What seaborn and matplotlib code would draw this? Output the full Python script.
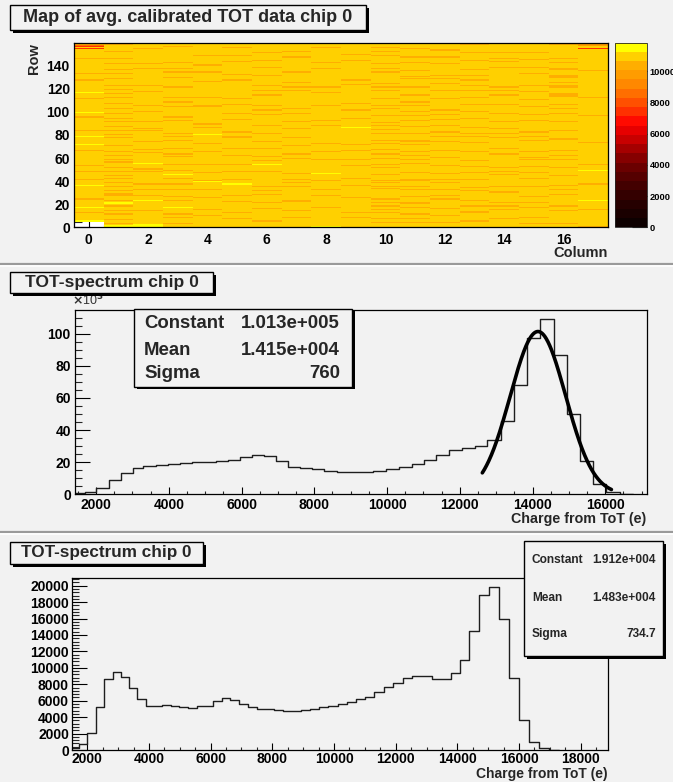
import numpy as np
import pandas as pd
import matplotlib
matplotlib.use("Agg")
import matplotlib.pyplot as plt
import seaborn as sns
from matplotlib.colors import ListedColormap
from matplotlib.patches import Rectangle
from matplotlib.ticker import FixedLocator, MultipleLocator
from matplotlib.lines import Line2D

# ---------------- data ----------------
map_title = "Map of avg. calibrated TOT data chip 0"
spec_title = "TOT-spectrum chip 0"
map_columns = list(range(18))
map_rows = list(range(160))
# cell levels per column (row 0 first); codes -> avg calibrated TOT
level_values = {"Y": 11550, "G": 10950, "O": 10400, "o": 9800, "R": 8550, "r": 7400, ".": np.nan}
map_cells = [
    ".....YGGGG GGOGGGGYGG GGGGOGGGGG GGGGGGYGGG GOGGGGGGOG GGGOGGGGGG GGGGGGOGGG GYGGGGGGYG GGGOGGGGGG GGGGGOGGGY GGGGGGGGGG GOGGGGYGGG GGGGGGGOGG GGGOGGGGGG GGGGGGOGGG GGGGrGrROO",
    "YYGOGGOGGG GOGGOGGGOG YYGOGGGOOO GOGGGOGGOG GGOGOGGGOG GOGGGGOGOG GGOGGOGGGG OGGGGGGOGG OGGOGGGOGG GOGGOGGGOG GGOGGGGOGG GGOGGOGGGO GGOGGGGGOG GGGOGGOGGG GOGGGGOGGG GGOGGGGGOG",
    "YYYGGGGGGG GGGGOGGGGG GGGYGGGOGG GGOGGGGOGG GGGGGGGGOG OGGGGYGGGG GGGGOGGOGG GGGGOGGGGG GGGOGOGGGG GOGGGGGGGG OGGGGOGGGG GGGGGGGOGG GGOGGGGGGG GGGGGGGOGG GOGGGGGGGG GGGGOGGGGG",
    "GGGOGGGGOG GOGGGGGYGG GGGOGGOGGG GGOGGGGOGG GGOGGYGGGO GGGGOGGGGG GOGOGGGGOG GGGGGOGGOG GOGGGGGGGG GGOGGOGGGG GGGGOGGGOG GGOGGGGGGG GOGGGGGGGO GGGGOGGOGG GGOGGGGGGG GGGGGGOGGG",
    "GGGGGGGGGG OGGGGOGGGG GGGGGOGGGG GGOGGGGGGY OGGGGGGOGG GGGGOGGGGG GGGGGOGGGG GGOGGGGGGG YGGGGGOGGO GGGGGGGGGG GGGGOOGGGG GGOGGGGGGG GGGGGGOGGG GGGGOGGGGG OGGGGGGGOG GGGGGGGGGG",
    "GGGGGGGOGG GGOGGGGGGG GGOGGGGOGG GGGGGGGYGG GOGGGGGGOG GGGGOGGGGG GGOGGGGGOG GGGGGGGOOG GGOGGGGGGG GGGOGGGGOG GGGGGGOGGG GOGGGGGGGG GGGGGGGOGG GGOGGGGGGG GGGOGGGGOG GGGGGOGGGG",
    "GGGGGOGGGG GGGGGGOGGG GOGGGGGGOG GOGGGOGGGG GGGGGGGGOG GGGGYGGOGG GOGGGGGGOG GGGGOGGGGG GOGGGGGGOG GGGGGGGOGG GOGGGOGGGG GGGGOGGGOG GGOGGGGGGG GOGGGGGGOG GGGGOGGGGG GOGGGGGGGG",
    "GGGGGGGGOG GGGGOGGGGG GGOOGGGGGG GGGGGOGGOG GOGGGGOGGG GGGGGGGGGO GGGOGGGGGG OGGGGGGOGG GGGGGOGGGG GOGGGGGGOG GGOGGGGGGG GGGGGGGGOG GOGGGOGGGG GGGGOGGGGG GGGGGGGOGG GGOGGGGGGG",
    "YGGGGGGGGG GGGGGGGOGG GGGGGGGOGG GGOGGGGGGG OGGGGGYGGG GGGGGGGGOG GGGGGOGGGG GGOGGGGGGG GGGGGGGGOG GGOGGGGGGG GGGGGOGGGG GGGGGGOGGG GOGGGGGGGG GGGGGGGOGG GGOGGGGGGG GGGGGOGGGG",
    "GGGGGGGGOG GGOGGGGGGG GGGGGOGGGG GGGGGGOGGG GGOGGGGGGG GGGOGGGGOG GGGGGGOGGG GOGGGGGGGG GGGGGGYGGG GGGGOGGGGG GOGGGGGOGG GGGGGGGGGG GGGOGGGOGG GGGGGGGGGG GGGGOGGGGO GGGGGGGGGG",
    "GGGGOGGOGG GGOGGOGGOG GOGGOGGGGG GGGOGOGGOG OGGGGOGGGG GOGGOGGGGO GGGOGGGOGG GGOGGOGGGG GOGGOGGGOG OGGGGGOGGG GGOGGOGGGG GOGGGGGGOG GOGGOGGGGG GGGGOGGOGG GOGGGGGGOG GGOGGOGGGG",
    "GGGGOGGOGG GOGGGGGOGG OOGGGGOGGG GGOGGOGGGG OOGGGGGOGG GGGGGOGGOG GGOGGOGGGG GOGGOOGGGG GOGGGGGOGG GGOGGGOGGG OGGGGOGGOG GGGGOGGGGG GOGGGGGGOG OGGGGOGGGG GGOGGGGOGG GGGGOGGGGG",
    "GGGGOGGGGG OGGGGGOGGG GGGGOGGOGG GGOGGGGGOG GOGGGGOGGG GGGOGGGGGG OGGGGGOGGG GGGGOGGGOG GGOGGGGGOG GGGOGGGOGG GOGGGGGGGG GOGGGGGGOG GGGGOGGGOG GOGGGGGGGG GOGGGGGOGG GGGOGGGGGG",
    "GGGGGOGGGG GGOOGGGGOG GGGOGGGGGG GOGGOGGGGG GOGGGGGOGG GGOGGGGOGG GGGGGOGGGG GGGOGGGGOG GOGGGGOGGG GGGGOGGGGG OGGGGGOGGG GGOGGGGGOG GGOGGGGOGG GOGGGGOGGG GGGGOGGGGG GOGGGGGGOG",
    "GGGGGGGOGG GGGGGOGGOG GOGGGGGGGG OGGGGOGGGG GGGGGOGGOG GOGGGGGGGG GGGOGGGGOG GGGGGGGOGG GOGGGOGGGG GOGGGGGGOG GGGGGGOGGG GGGGOGGGOG GOGGGGGGGG GGGGGGGGOG GGGOGGOGGG GOGGGGGGGG",
    "GGGOGGGGOG GGGGGGGOGG GOGGGGOGGG GGGGGOGGGG GGOGGGGOGG GGOGGGGGOG OGGGGOGGGG GGGGGOGGOG GGOGGGGGGG GGOGGGGOGG GGGGOGGGGG OGGGGGGOGG GGOGGGGGGG GGGOGGGGOG GGGGGOGGGG GOGGGGGGGG",
    "GGGOGGGGGG GGGGOGGGOG GGGGGGGGOG GGOGGGOGGG GGGGOGGGGG GOGGGGGGOG GGOGGGOGGG GGGGGGOGGG GGGOGGGGGG GOGGGGGGOG GGOGGGOGGG GGGOOOGGGG GOOGGOGGGO OOGGGGOOGG GGOGGGOGGG GGGGGGGGOG",
    "OGGGGGGGGG GGGGGOGGGG GGGYGGGGGG GGGGGGGOGG GGGGGGGGGY GGGGOGGGGG GGGGGGGGGG GGGOGGGGGG GGGGGGGGGG GGGGGGOGGG GGGGGGGGGG GGOGGGGGGG GGGGGGGGGG GGGGGOGGGG GGGGGGGGGG GGGGrGGooo",
]
map_vmax = 11830
cbar_ticks = [0, 2000, 4000, 6000, 8000, 10000]

# middle spectrum (counts in units of 10^3), variable-width bins
mid_edges = [1420, 1690, 2000, 2365, 2675, 3005, 3300, 3635, 3966, 4297, 4628, 4959,
             5290, 5621, 5952, 6283, 6614, 6945, 7265, 7610, 7945, 8280, 8614, 8949,
             9284, 9618, 9967, 10333, 10673, 11011, 11360, 11706, 12074, 12412, 12761,
             13126, 13492, 13849, 14217, 14582, 14948, 15315, 15662, 16030, 16396, 16761]
mid_counts_k = [0.5, 1.2, 3.7, 8.7, 13.2, 16.1, 17.4, 18.3, 18.7, 19.4, 19.9, 20.4,
                20.9, 21.6, 23.0, 24.4, 23.9, 20.5, 17.3, 16.3, 15.6, 14.8, 14.0, 14.0,
                14.0, 14.7, 15.9, 17.0, 18.6, 21.1, 24.4, 27.3, 28.9, 30.2, 33.5,
                45.5, 68.3, 97.3, 109.3, 87.0, 49.7, 20.7, 6.2, 1.6, 0.3]
fit_constant_k = 101.3
fit_mean = 14150
fit_sigma = 760
fit_range = (12620, 16170)
mid_stats = [("Constant", "1.013e+005"), ("Mean", "1.415e+004"), ("Sigma", "760")]

# bottom spectrum
bot_edges = [1494, 1741, 2000, 2272, 2542, 2823, 3083, 3352, 3621, 3894, 4153, 4412,
             4704, 4983, 5275, 5547, 5816, 6086, 6358, 6627, 6929, 7221, 7493, 7795,
             8054, 8355, 8628, 8920, 9221, 9523, 9815, 10120, 10411, 10713, 11005,
             11306, 11621, 11923, 12227, 12539, 12843, 13167, 13469, 13783, 14085,
             14387, 14701, 15025, 15340, 15674, 15998, 16322, 16647, 16971, 17295]
bot_counts = [300, 750, 2050, 5200, 8700, 9450, 8850, 7500, 6200, 5400, 5400, 5500,
              5300, 5200, 5100, 5300, 5400, 6000, 6300, 6100, 5600, 5200, 5000, 5000,
              4850, 4750, 4750, 4850, 5000, 5200, 5300, 5550, 5900, 6250, 6500,
              7050, 7650, 8150, 8800, 9000, 9000, 8700, 8700, 9350, 10900,
              14500, 18900, 19900, 15900, 8800, 3700, 950, 250, 50]
bot_stats = [("Constant", "1.912e+004"), ("Mean", "1.483e+004"), ("Sigma", "734.7")]

# ---------------- style ----------------
sns.set_theme(style="white")
plt.rcParams["font.family"] = ["Liberation Sans", "DejaVu Sans"]
plt.rcParams["font.weight"] = "bold"
plt.rcParams["axes.labelweight"] = "bold"

BG = "#f2f2f2"
W, H = 673, 782
fig = plt.figure(figsize=(W / 100, H / 100), dpi=100, facecolor=BG)


def fr(x0, y0, x1, y1):
    return [x0 / W, 1 - y1 / H, (x1 - x0) / W, (y1 - y0) / H]


def px(x, y):
    return x / W, 1 - y / H


def fbox(x0, y0, x1, y1, sh=3, lw=1.0):
    fig.patches.append(Rectangle(px(x0 + sh, y1 + sh), (x1 - x0) / W, (y1 - y0) / H,
                                 transform=fig.transFigure, facecolor="black",
                                 edgecolor="none", zorder=5))
    fig.patches.append(Rectangle(px(x0, y1), (x1 - x0) / W, (y1 - y0) / H,
                                 transform=fig.transFigure, facecolor=BG,
                                 edgecolor="black", lw=lw, zorder=6))


def style_frame(ax):
    for sp in ax.spines.values():
        sp.set_visible(True)
        sp.set_color("black")
        sp.set_linewidth(0.9)
    ax.set_xlabel("")
    ax.set_ylabel("")


# ---------------- top heatmap ----------------
ax_map = fig.add_axes(fr(74, 42.5, 608, 227.3))
ax_cb = fig.add_axes(fr(615, 42.5, 647, 227.3))
cells = [s.replace(" ", "") for s in map_cells]
Z = np.array([[level_values[c] for c in s] for s in cells], dtype=float).T
df = pd.DataFrame(Z, index=map_rows, columns=map_columns)
palette = ["#0d0000", "#1a0000", "#260000", "#340000", "#430000", "#550000", "#6a0000",
           "#850000", "#a50000", "#c80000", "#e60000", "#ff0a00", "#ff3000", "#ff5000",
           "#ff6e00", "#ff8800", "#ff9c00", "#ffae00", "#ffd000", "#ffff00"]
cmap = ListedColormap(palette)
ax_map.set_facecolor("white")
sns.heatmap(df, ax=ax_map, cmap=cmap, vmin=0, vmax=map_vmax, cbar_ax=ax_cb,
            xticklabels=False, yticklabels=False)
ax_map.set_ylim(0, 160)
ax_map.set_xlim(0, 18)
style_frame(ax_map)
ax_map.xaxis.set_major_locator(FixedLocator([c + 0.5 for c in range(0, 17, 2)]))
ax_map.set_xticklabels([str(c) for c in range(0, 17, 2)])
ax_map.xaxis.set_minor_locator(FixedLocator(list(np.arange(0.5, 18, 0.5))))
ax_map.yaxis.set_major_locator(FixedLocator(list(range(0, 141, 20))))
ax_map.set_yticklabels([str(v) for v in range(0, 141, 20)])
ax_map.yaxis.set_minor_locator(MultipleLocator(5))
ax_map.tick_params(axis="y", which="major", direction="in", length=11.5, width=0.8,
                   left=True, labelsize=10, pad=3, colors="black")
ax_map.tick_params(axis="y", which="minor", direction="in", length=5.8, width=0.8, left=True)
ax_map.tick_params(axis="x", which="major", direction="in", length=4, width=0.8,
                   bottom=True, labelsize=10, pad=4, colors="black")
ax_map.tick_params(axis="x", which="minor", direction="in", length=2, width=0.8, bottom=True)
for t in ax_map.get_xticklabels() + ax_map.get_yticklabels():
    t.set_fontweight("bold")

cb = ax_map.collections[0].colorbar
cb.set_ticks(cbar_ticks)
cb.set_ticklabels([str(t) for t in cbar_ticks])
cb.outline.set_linewidth(0.6)
ax_cb.tick_params(direction="in", length=11, width=0.8, right=True, labelsize=6.7,
                  pad=2, colors="black")
for t in ax_cb.get_yticklabels():
    t.set_fontweight("bold")

fig.text(*px(608, 253), "Column", ha="right", va="center", fontsize=10.5, fontweight="bold")
fig.text(*px(34, 43), "Row", rotation=90, ha="center", va="top", fontsize=10.5,
         fontweight="bold")

# ---------------- middle spectrum ----------------
ax_mid = fig.add_axes(fr(75, 310, 646.7, 494.3))
ax_mid.set_facecolor(BG)
mid_centers = [(a + b) / 2 for a, b in zip(mid_edges[:-1], mid_edges[1:])]
sns.histplot(x=mid_centers, weights=mid_counts_k, bins=mid_edges, element="step",
             fill=False, color="#1e1e1e", linewidth=1.0, ax=ax_mid)
fit_x = np.linspace(fit_range[0], fit_range[1], 300)
fit_y = fit_constant_k * np.exp(-0.5 * ((fit_x - fit_mean) / fit_sigma) ** 2)
sns.lineplot(x=fit_x, y=fit_y, color="black", linewidth=2.6, ax=ax_mid, legend=False)
ax_mid.set_xlim(1420, 17140)
ax_mid.set_ylim(0, 114.7)
style_frame(ax_mid)
ax_mid.xaxis.set_major_locator(FixedLocator(list(range(2000, 16001, 2000))))
ax_mid.set_xticklabels([str(v) for v in range(2000, 16001, 2000)])
ax_mid.xaxis.set_minor_locator(MultipleLocator(500))
ax_mid.yaxis.set_major_locator(FixedLocator(list(range(0, 101, 20))))
ax_mid.set_yticklabels([str(v) for v in range(0, 101, 20)])
ax_mid.yaxis.set_minor_locator(MultipleLocator(5))
ax_mid.tick_params(axis="y", which="major", direction="in", length=10.8, width=0.8,
                   left=True, labelsize=10, pad=3, colors="black")
ax_mid.tick_params(axis="y", which="minor", direction="in", length=5.2, width=0.8, left=True)
ax_mid.tick_params(axis="x", which="major", direction="in", length=5, width=0.8,
                   bottom=True, labelsize=10, pad=2.5, colors="black")
ax_mid.tick_params(axis="x", which="minor", direction="in", length=2.5, width=0.8, bottom=True)
for t in ax_mid.get_xticklabels() + ax_mid.get_yticklabels():
    t.set_fontweight("bold")
fig.text(*px(72, 300), r"$\times$10$^{3}$", ha="left", va="center", fontsize=9,
         fontweight="normal", color="#333333")
fig.text(*px(646, 519), "Charge from ToT (e)", ha="right", va="center", fontsize=10.3,
         fontweight="bold")

fbox(134, 309, 352, 387, sh=2.5)
for (lab, val), yy in zip(mid_stats, [324, 350, 374]):
    fig.text(*px(144, yy), lab, ha="left", va="center", fontsize=13.4, fontweight="bold", zorder=7)
    fig.text(*px(340, yy), val, ha="right", va="center", fontsize=13.4, fontweight="bold", zorder=7)

# ---------------- bottom spectrum ----------------
ax_bot = fig.add_axes(fr(71.7, 578.3, 608.3, 750))
ax_bot.set_facecolor(BG)
bot_centers = [(a + b) / 2 for a, b in zip(bot_edges[:-1], bot_edges[1:])]
sns.histplot(x=bot_centers, weights=bot_counts, bins=bot_edges, element="step",
             fill=False, color="#1e1e1e", linewidth=1.0, ax=ax_bot)
ax_bot.set_xlim(1494, 18895)
ax_bot.set_ylim(0, 20900)
style_frame(ax_bot)
ax_bot.xaxis.set_major_locator(FixedLocator(list(range(2000, 18001, 2000))))
ax_bot.set_xticklabels([str(v) for v in range(2000, 18001, 2000)])
ax_bot.xaxis.set_minor_locator(MultipleLocator(500))
ax_bot.yaxis.set_major_locator(FixedLocator(list(range(0, 20001, 2000))))
ax_bot.set_yticklabels([str(v) for v in range(0, 20001, 2000)])
ax_bot.yaxis.set_minor_locator(MultipleLocator(400))
ax_bot.tick_params(axis="y", which="major", direction="in", length=10.8, width=0.8,
                   left=True, labelsize=10, pad=2, colors="black")
ax_bot.tick_params(axis="y", which="minor", direction="in", length=5.2, width=0.8, left=True)
ax_bot.tick_params(axis="x", which="major", direction="in", length=5, width=0.8,
                   bottom=True, labelsize=10, pad=1.5, colors="black")
ax_bot.tick_params(axis="x", which="minor", direction="in", length=2.5, width=0.8, bottom=True)
for t in ax_bot.get_xticklabels() + ax_bot.get_yticklabels():
    t.set_fontweight("bold")
fig.text(*px(608, 774), "Charge from ToT (e)", ha="right", va="center", fontsize=10,
         fontweight="bold")

fbox(524, 541, 663, 656, sh=3)
for (lab, val), yy in zip(bot_stats, [560, 598, 634]):
    fig.text(*px(532, yy), lab, ha="left", va="center", fontsize=8.6, fontweight="bold", zorder=7)
    fig.text(*px(656, yy), val, ha="right", va="center", fontsize=8.6, fontweight="bold", zorder=7)

# ---------------- titles & separators ----------------
fbox(10, 5, 366, 30, sh=3)
fig.text(*px(188, 17.5), map_title, ha="center", va="center", fontsize=13, fontweight="bold", zorder=7)
fbox(10, 272, 213, 293, sh=3)
fig.text(*px(111.5, 282.5), spec_title, ha="center", va="center", fontsize=12.6, fontweight="bold", zorder=7)
fbox(10, 542, 203, 564, sh=3)
fig.text(*px(106.5, 553), spec_title, ha="center", va="center", fontsize=12.3, fontweight="bold", zorder=7)

for yy in (264, 532):
    fig.add_artist(Line2D([0, 1], [1 - yy / H, 1 - yy / H], transform=fig.transFigure,
                          color="#9a9a9a", lw=1.6, zorder=4))
    fig.add_artist(Line2D([0, 1], [1 - (yy + 2) / H, 1 - (yy + 2) / H], transform=fig.transFigure,
                          color="white", lw=1.2, zorder=4))

fig.savefig("out.png", dpi=100, facecolor=BG)
